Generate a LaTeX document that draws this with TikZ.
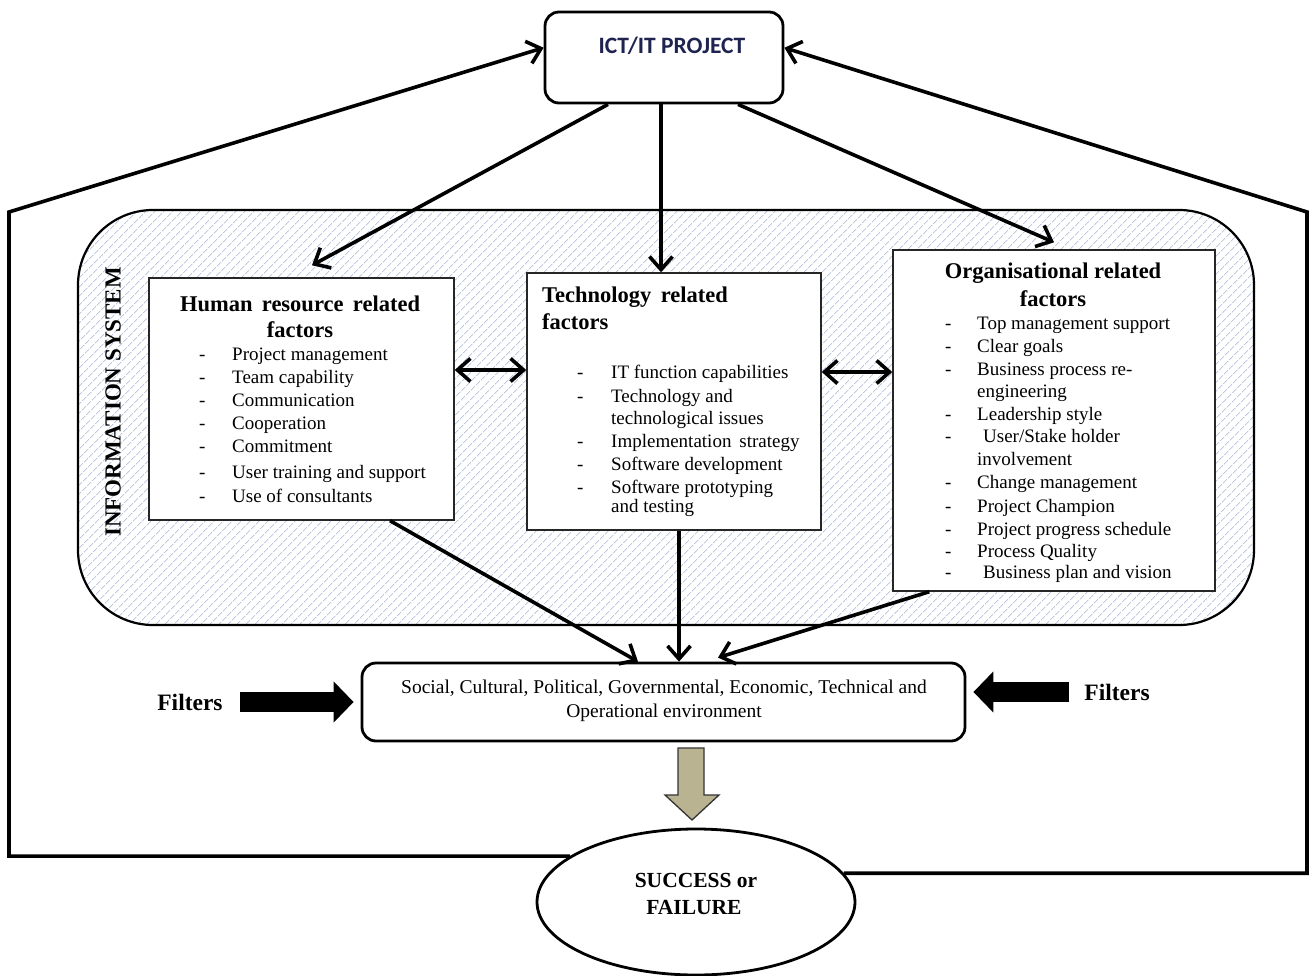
\documentclass[tikz,border=0pt]{standalone}
\usepackage{fontspec}
\setmainfont{Liberation Serif}
\newfontfamily\ictfont{Carlito}
\usetikzlibrary{arrows.meta,patterns.meta,shapes.geometric,calc}

\definecolor{hatch}{RGB}{190,202,226}
\definecolor{khaki}{RGB}{186,179,146}
\definecolor{navytext}{RGB}{30,35,80}

% dash bullet of the factor lists
\newcommand\bul[1][33pt]{\makebox[#1][l]{-}}

\begin{document}
\begin{tikzpicture}[x=1pt,y=-1pt,
  barb/.style={-{Straight Barb[length=13pt,width=23pt,line width=3.6pt]}},
  arr/.style={line width=3.6pt,barb},
  dbl/.style={line width=3.6pt,{Straight Barb[length=13pt,width=23pt,line width=3.6pt]}-{Straight Barb[length=13pt,width=23pt,line width=3.6pt]}},
  frame/.style={line width=3.6pt,line join=miter},
  factorbox/.style={draw=black!85,line width=1.4pt,fill=white,inner sep=0pt},
  rbox/.style={draw,line width=2.8pt,rounded corners=14pt,fill=white,inner sep=0pt},
  item/.style={anchor=base west,inner sep=0pt,font=\fontsize{19}{22}\selectfont},
  ttl/.style={inner sep=0pt,font=\bfseries\fontsize{22.5}{26}\selectfont},
  envtxt/.style={anchor=base,inner sep=0pt,font=\fontsize{19.5}{22}\selectfont},
  filt/.style={anchor=base,inner sep=0pt,font=\bfseries\fontsize{23.5}{26}\selectfont},
  block/.style={line width=20pt,-{Triangle[length=20pt,width=40pt]}}
]
\useasboundingbox (0,0) rectangle (1311,976);

% information system region
\node[draw,line width=2.2pt,rounded corners=75pt,minimum width=1176pt,minimum height=415pt,
  pattern={Lines[angle=45,distance=6.5pt,line width=0.9pt]},pattern color=hatch] (is) at (666,417.5) {};
\node[rotate=90,inner sep=0pt,font=\bfseries\fontsize{23}{26}\selectfont] (isl) at (113,402) {INFORMATION SYSTEM};

% top project box
\node[rbox,minimum width=238pt,minimum height=91pt] (ict) at (664,57.5) {};
\node[inner sep=0pt,text=navytext,font=\ictfont\bfseries\fontsize{23.5}{26}\selectfont] (ictt) at (672,46) {ICT/IT PROJECT};

% factor boxes
\node[factorbox,minimum width=305pt,minimum height=242pt] (hr) at (301.5,399) {};
\node[factorbox,minimum width=294pt,minimum height=257pt] (tech) at (674,401.5) {};
\node[factorbox,minimum width=322pt,minimum height=341pt] (org) at (1054,420.5) {};

% human resource factors
\node[ttl,anchor=base] (hrt1) at (300,311) {Human\, resource\, related};
\node[ttl,anchor=base] (hrt2) at (300,337) {factors};
\node[item] (hr1) at (199,360) {\bul Project management};
\node[item] (hr2) at (199,383) {\bul Team capability};
\node[item] (hr3) at (199,406) {\bul Communication};
\node[item] (hr4) at (199,429) {\bul Cooperation};
\node[item] (hr5) at (199,452) {\bul Commitment};
\node[item] (hr6) at (199,478) {\bul User training and support};
\node[item] (hr7) at (199,502) {\bul Use of consultants};

% technology factors
\node[ttl,anchor=base west] (tt1) at (542,302) {Technology\, related};
\node[ttl,anchor=base west] (tt2) at (542,329) {factors};
\node[item] (te1) at (577,378) {\bul[34pt]IT function capabilities};
\node[item] (te2) at (577,402) {\bul[34pt]Technology and};
\node[item] (te3) at (577,424) {\hspace*{34pt}technological issues};
\node[item] (te4) at (577,447) {\bul[34pt]Implementation\, strategy};
\node[item] (te5) at (577,470) {\bul[34pt]Software development};
\node[item] (te6) at (577,493) {\bul[34pt]Software prototyping};
\node[item] (te7) at (577,512) {\hspace*{34pt}and testing};

% organisational factors
\node[ttl,anchor=base] (ot1) at (1053,278) {Organisational related};
\node[ttl,anchor=base] (ot2) at (1053,306) {factors};
\node[item] (or1) at (945,329) {\bul[32pt]Top management support};
\node[item] (or2) at (945,352) {\bul[32pt]Clear goals};
\node[item] (or3) at (945,375) {\bul[32pt]Business process re-};
\node[item] (or4) at (945,397) {\hspace*{32pt}engineering};
\node[item] (or5) at (945,420) {\bul[32pt]Leadership style};
\node[item] (or6) at (945,442) {\bul[38pt]User/Stake holder};
\node[item] (or7) at (945,465) {\hspace*{32pt}involvement};
\node[item] (or8) at (945,488) {\bul[32pt]Change management};
\node[item] (or9) at (945,512) {\bul[32pt]Project Champion};
\node[item] (or10) at (945,535) {\bul[32pt]Project progress schedule};
\node[item] (or11) at (945,557) {\bul[32pt]Process Quality};
\node[item] (or12) at (945,578) {\bul[38pt]Business plan and vision};

% environment box
\node[rbox,minimum width=603pt,minimum height=78pt] (env) at (663.5,702) {};
\node[envtxt] (en1) at (664,693) {Social, Cultural, Political, Governmental, Economic, Technical and};
\node[envtxt] (en2) at (664,717) {Operational environment};

% filters
\node[filt] (fl) at (190,710) {Filters};
\node[filt] (fr) at (1117,700) {Filters};
\draw[block] ([xshift=17pt]fl.east |- env.west) -- ([xshift=-7pt]env.west);
\draw[block] ([xshift=-15pt,yshift=10pt]fr.west |- env.east) -- ([xshift=7pt,yshift=10pt]env.east);

% outcome
\node[draw,ellipse,line width=2.8pt,fill=white,minimum width=318pt,minimum height=146pt,inner sep=0pt] (succ) at (696,902) {};
\node[filt,font=\bfseries\fontsize{21.5}{24}\selectfont] (s1) at (696,887) {SUCCESS or};
\node[filt,font=\bfseries\fontsize{21.5}{24}\selectfont] (s2) at (694,914) {FAILURE};
\draw[line width=1.3pt,draw=black!80,fill=khaki,line join=miter]
  (678,748) -- (704,748) -- (704,795) -- (719,795) -- (692,820) -- (665,795) -- (678,795) -- cycle;

% feedback frame around the system
\coordinate (lb) at (9,857);
\coordinate (lt) at (9,212);
\coordinate (rb) at (1307,873);
\coordinate (rt) at (1307,212);
\draw[frame,barb] (succ.160) -- (succ.160 -| lb) -- (lt) -- ($(ict.north west)!0.396!(ict.south west)$);
\draw[frame,barb] (succ.11) -- (succ.11 -| rb) -- (rt) -- ($(ict.north east)!0.396!(ict.south east)$);

% project to factors
\draw[arr] ([xshift=-56pt]ict.south) -- ([xshift=10.5pt,yshift=12pt]hr.north);
\draw[arr] ([xshift=-3pt]ict.south) -- ([xshift=-3pt]ict.south |- tech.north);
\draw[arr] ([xshift=74pt]ict.south) -- ([yshift=7pt]org.north);

% links between factor groups
\draw[dbl] ([yshift=29pt]hr.east) -- ([yshift=29pt]hr.east -| tech.west);
\draw[dbl] ([yshift=29.5pt]tech.east) -- ([yshift=29.5pt]tech.east -| org.west);

% factors to environment
\draw[arr] ([xshift=88.5pt]hr.south) -- ([xshift=-25.5pt]env.north);
\draw[arr] ([xshift=5pt]tech.south) -- ([xshift=5pt]tech.south |- env.north);
\draw[arr] ([xshift=37pt]org.south west) -- ([xshift=54.5pt,yshift=4pt]env.north);
\end{tikzpicture}
\end{document}
